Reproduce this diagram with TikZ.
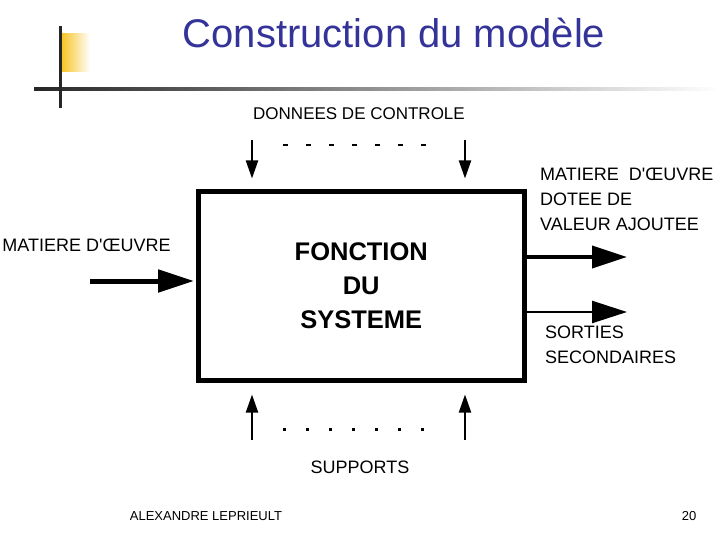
\documentclass[tikz,border=0pt]{standalone}
\usepackage{fontspec}
\setmainfont{Liberation Sans}
\usetikzlibrary{arrows.meta,positioning}
\definecolor{titleBlue}{RGB}{51,51,153}
\definecolor{barYellow}{RGB}{248,196,40}
\tikzset{
myBox/.style={
	draw, line width=5pt, rectangle,
	minimum width=325.5pt, minimum height=188pt,
	inner sep=0pt, align=center,
	font=\fontsize{25.5}{34}\selectfont\bfseries
}
, myLabel/.style={
	inner sep=0pt, text=black,
	font=\fontsize{18}{25}\selectfont
}
, myFoot/.style={inner sep=0pt, font=\fontsize{13}{15}\selectfont}
% links
, myIn/.style={-{Triangle[length=36pt,width=22pt]},line width=5pt,shorten >=2pt}
, myOut/.style={-{Triangle[length=35pt,width=22pt]},line width=4pt}
, mySec/.style={-{Triangle[length=35pt,width=22pt]},line width=2.5pt}
, myCtl/.style={-{Triangle[length=18pt,width=12pt]},line width=2pt}
}
\begin{document}
\begin{tikzpicture}[x=1pt,y=-1pt]
	\useasboundingbox (0,0) rectangle (720,540);
	% slide decoration
	\shade[left color=black!85, right color=white] (34,87.5) rectangle (720,90.5);
	\shade[left color=barYellow, middle color=barYellow!85, right color=white] (62,34) rectangle (90,72);
	\fill[black!85] (58.5,26) rectangle (61.5,108);
	\node[font=\fontsize{40}{48}\selectfont, text=titleBlue] (title) at (394,33) {Construction du modèle};

	% nodes
	\node[myBox] (fct) at (361.25,286) {FONCTION\\DU\\SYSTEME};
	\node[myLabel, font=\fontsize{17}{25}\selectfont] (ctl) at (359,114) {DONNEES DE CONTROLE};
	\node[myLabel] (sup) at (360,467) {SUPPORTS};
	\node[myLabel] (inLbl) at (86.5,245) {MATIERE D\textquotesingle ŒUVRE};
	\node[myLabel, anchor=west, align=left] (outLbl) at (540,199) {MATIERE\ \ D\textquotesingle ŒUVRE\\DOTEE DE\\VALEUR AJOUTEE};
	\node[myLabel, anchor=west, align=left] (secLbl) at (545,344.5) {SORTIES\\SECONDAIRES};

	% free ends
	\coordinate (ctlL) at (252,140);
	\coordinate (ctlR) at (465,140);
	\coordinate (supL) at (252,440);
	\coordinate (supR) at (465,440);
	\coordinate (inp) at (90,281);
	\coordinate (out1) at (627,257);
	\coordinate (out2) at (627,312);

	% links
	\draw [myCtl,shorten >=11pt] (ctlL) to (ctlL |- fct.north);
	\draw [myCtl,shorten >=11pt] (ctlR) to (ctlR |- fct.north);
	\draw [myCtl,shorten >=12pt] (supL) to (supL |- fct.south);
	\draw [myCtl,shorten >=12pt] (supR) to (supR |- fct.south);
	\draw [myIn] (inp) to (inp -| fct.west);
	\draw [myOut] (out1 -| fct.east) to (out1);
	\draw [mySec] (out2 -| fct.east) to (out2);

	% dots
	\foreach \i in {0,...,6} {
		\fill (283+23*\i,144) rectangle ++(5,2);
		\fill (283+23*\i,428) rectangle ++(3,3);
	}

	% footer
	\node[myFoot] (author) at (206,516) {ALEXANDRE LEPRIEULT};
	\node[myFoot] (page) at (689,516) {20};
\end{tikzpicture}
\end{document}
